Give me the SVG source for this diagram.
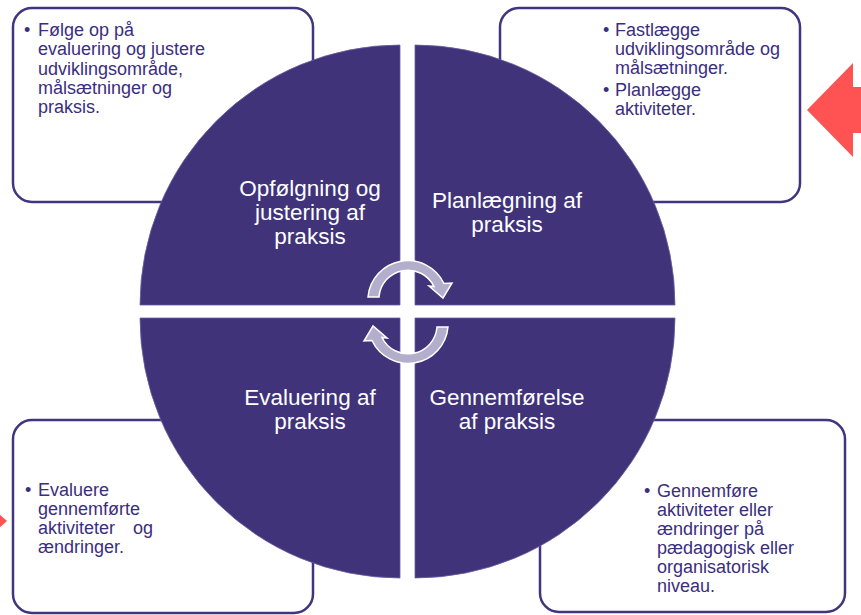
<svg xmlns="http://www.w3.org/2000/svg" width="861" height="615" viewBox="0 0 861 615">
<style>
.box{fill:#fff;stroke:#41357f;stroke-width:2.5}
.quad{fill:#40337a;stroke:#6a60a0;stroke-width:0.8}
.qt{font-family:"Liberation Sans",Arial,sans-serif;font-size:22.5px;fill:#fff;text-anchor:middle}
.bt{font-family:"Liberation Sans",Arial,sans-serif;font-size:18px;fill:#3a2e7e}
.cyc{fill:#b3aecb;stroke:#fff;stroke-width:1.5;stroke-linejoin:miter}
.red{fill:#ff5252}
</style>
<rect width="861" height="615" fill="#fff"/>
<polygon class="red" points="807,110 853,63 853,87 870,87 870,133 853,133 853,157"/>
<polygon class="red" points="-2,513 7,521 -2,529"/>
<g id="box-tl"><rect class="box" x="13" y="8" width="300" height="194" rx="19"/>
<text class="bt"><tspan x="24" y="36">•</tspan><tspan x="38" y="36">Følge op på</tspan><tspan x="38" y="55">evaluering og justere</tspan><tspan x="38" y="74.5">udviklingsområde,</tspan><tspan x="38" y="94">målsætninger og</tspan><tspan x="38" y="113">praksis.</tspan></text></g>
<g id="box-tr"><rect class="box" x="500" y="8" width="300" height="194" rx="19"/>
<text class="bt"><tspan x="603" y="36">•</tspan><tspan x="615" y="36">Fastlægge</tspan><tspan x="615" y="55">udviklingsområde og</tspan><tspan x="615" y="74">målsætninger.</tspan><tspan x="603" y="96">•</tspan><tspan x="615" y="96">Planlægge</tspan><tspan x="615" y="115">aktiviteter.</tspan></text></g>
<g id="box-br"><rect class="box" x="540" y="420" width="305" height="192" rx="19"/>
<text class="bt"><tspan x="644" y="497">•</tspan><tspan x="657" y="497">Gennemføre</tspan><tspan x="657" y="516">aktiviteter eller</tspan><tspan x="657" y="535">ændringer på</tspan><tspan x="657" y="554">pædagogisk eller</tspan><tspan x="657" y="573">organisatorisk</tspan><tspan x="657" y="592">niveau.</tspan></text></g>
<g id="box-bl"><rect class="box" x="13" y="420" width="300" height="193" rx="19"/>
<text class="bt"><tspan x="25" y="496">•</tspan><tspan x="38" y="496">Evaluere</tspan><tspan x="38" y="515">gennemførte</tspan><tspan x="38" y="534">aktiviteter</tspan><tspan x="133" y="534">og</tspan><tspan x="38" y="553">ændringer.</tspan></text></g>
<g id="q-tl"><path class="quad" d="M400,305 L140,305 A260,260 0 0,1 400,45 Z"/>
<text class="qt"><tspan x="310" y="196">Opfølgning og</tspan><tspan x="310" y="220">justering af</tspan><tspan x="310" y="244">praksis</tspan></text></g>
<g id="q-tr"><path class="quad" d="M415,305 L415,45 A260,260 0 0,1 675,305 Z"/>
<text class="qt"><tspan x="507" y="208">Planlægning af</tspan><tspan x="507" y="232">praksis</tspan></text></g>
<g id="q-br"><path class="quad" d="M415,318 L675,318 A260,260 0 0,1 415,578 Z"/>
<text class="qt"><tspan x="507" y="405">Gennemførelse</tspan><tspan x="507" y="429">af praksis</tspan></text></g>
<g id="q-bl"><path class="quad" d="M400,318 L400,578 A260,260 0 0,1 140,318 Z"/>
<text class="qt"><tspan x="310" y="405">Evaluering af</tspan><tspan x="310" y="429">praksis</tspan></text></g>
<g id="connectors">
<path class="cyc" d="M368,297 A40,40 0 0,1 444,283.5 L452,283 L443,298 L429,286 L434,286.5 A29,29 0 0,0 379,297 Z"/>
<path class="cyc" transform="rotate(180 408 312)" d="M368,297 A40,40 0 0,1 444,283.5 L452,283 L443,298 L429,286 L434,286.5 A29,29 0 0,0 379,297 Z"/>
</g>
</svg>
